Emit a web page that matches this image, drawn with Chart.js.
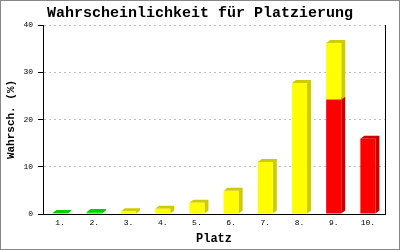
<!DOCTYPE html>
<html>
<head>
<meta charset="utf-8">
<script src="https://cdn.jsdelivr.net/npm/chart.js@4/dist/chart.umd.min.js"></script>
<style>
html, body { margin: 0; padding: 0; background: #fff; }
canvas { display: block; }
</style>
</head>
<body>
<canvas id="graph" width="400" height="250"></canvas>
<script>
(function () {

var places = ['1.', '2.', '3.', '4.', '5.', '6.', '7.', '8.', '9.', '10.'];
var greenValues = [0.2, 0.4, null, null, null, null, null, null, null, null];
var redValues = [null, null, null, null, null, null, null, null, 24.2, 15.9];
var yellowValues = [null, null, 0.6, 1.1, 2.4, 4.9, 11.0, 27.7, 12.0, null];
var yTicks = [0, 10, 20, 30, 40];

var mono = 'Liberation Mono, Courier New, monospace';
var depth = { x: 4, y: 3 };

// side + top face of each box, drawn before the front faces
var boxes = {
	id: 'boxes',
	beforeDatasetsDraw: function (chart) {
		var ctx = chart.ctx;
		ctx.save();
		for (var d = 0; d < chart.data.datasets.length; d++) {
			var ds = chart.data.datasets[d];
			var meta = chart.getDatasetMeta(d);
			for (var i = 0; i < meta.data.length; i++) {
				if (ds.data[i] == null) {
					continue;
				}
				var p = meta.data[i].getProps(['x', 'y', 'base', 'width'], true);
				var l = p.x - p.width / 2;
				var r = p.x + p.width / 2;
				var top = Math.min(p.y, p.base);
				var bot = Math.max(p.y, p.base);
				ctx.fillStyle = ds.shade;
				ctx.beginPath();
				ctx.moveTo(l, top);
				ctx.lineTo(l + depth.x, top - depth.y);
				ctx.lineTo(r + depth.x, top - depth.y);
				ctx.lineTo(r + depth.x, bot - depth.y);
				ctx.lineTo(r, bot);
				ctx.lineTo(r, top);
				ctx.closePath();
				ctx.fill();
			}
		}
		ctx.restore();
	},
	// x axis line sits on top of the bars
	afterDatasetsDraw: function (chart) {
		var ctx = chart.ctx;
		var a = chart.chartArea;
		var y = Math.round(a.bottom) + 0.5;
		ctx.save();
		ctx.strokeStyle = '#000';
		ctx.lineWidth = 1;
		ctx.beginPath();
		ctx.moveTo(a.left, y);
		ctx.lineTo(a.right + 1, y);
		ctx.stroke();
		ctx.restore();
	},
	afterDraw: function (chart) {
		var ctx = chart.ctx;
		ctx.save();
		ctx.strokeStyle = '#888';
		ctx.lineWidth = 1;
		ctx.strokeRect(0.5, 0.5, chart.width - 1, chart.height - 1);
		ctx.restore();
	}
};

new Chart(document.getElementById('graph'), {
	type: 'bar',
	data: {
		labels: places,
		datasets: [
			{ data: greenValues, backgroundColor: '#00ee00', shade: '#00cc00' },
			{ data: redValues, backgroundColor: '#ff0000', shade: '#cc0000' },
			{ data: yellowValues, backgroundColor: '#ffff00', shade: '#cccc00' }
		]
	},
	options: {
		responsive: false,
		animation: false,
		borderWidth: 0,
		categoryPercentage: 0.9,
		barPercentage: 0.49,
		layout: { padding: 0 },
		plugins: {
			legend: { display: false },
			tooltip: { enabled: false },
			title: {
				display: true,
				text: 'Wahrscheinlichkeit für Platzierung',
				color: '#000',
				font: { family: mono, size: 15, weight: 'bold', lineHeight: 1.2 },
				padding: { top: 4, bottom: 3 }
			}
		},
		scales: {
			x: {
				stacked: true,
				grid: { display: false, drawTicks: false },
				border: { display: false },
				ticks: { color: '#000', padding: 4, font: { family: mono, size: 8 } },
				title: {
					display: true,
					text: 'Platz',
					color: '#000',
					font: { family: mono, size: 12, weight: 'bold', lineHeight: 1.2 },
					padding: 4
				},
				afterFit: function (scale) {
					scale.height = 36;
				}
			},
			y: {
				stacked: true,
				min: yTicks[0],
				max: yTicks[yTicks.length - 1],
				afterBuildTicks: function (scale) {
					scale.ticks = yTicks.map(function (v) { return { value: v }; });
				},
				grid: {
					color: '#bbbbbb',
					tickColor: '#000',
					tickLength: 5,
					tickBorderDash: []
				},
				border: { display: true, color: '#000', width: 1, dash: [2, 3] },
				ticks: { color: '#000', padding: 5, font: { family: mono, size: 8 } },
				title: {
					display: true,
					text: 'Wahrsch. (%)',
					color: '#000',
					font: { family: mono, size: 11, weight: 'bold', lineHeight: 1.2 },
					padding: 5
				},
				afterFit: function (scale) {
					scale.width = 43;
				}
			},
			// right frame line of the plot
			right: {
				position: 'right',
				min: yTicks[0],
				max: yTicks[yTicks.length - 1],
				grid: { display: false, drawTicks: false },
				border: { display: true, color: '#000', width: 1 },
				ticks: { display: false },
				afterFit: function (scale) {
					scale.width = 15;
				}
			}
		}
	},
	plugins: [boxes]
});

}());
</script>
</body>
</html>
